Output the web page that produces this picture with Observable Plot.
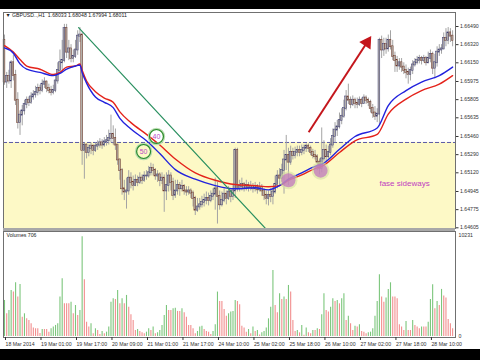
<!DOCTYPE html>
<html><head><meta charset="utf-8">
<script src="https://cdn.jsdelivr.net/npm/d3@7"></script>
<script src="https://cdn.jsdelivr.net/npm/@observablehq/plot@0.6"></script>
<style>
html,body{margin:0;padding:0;background:#000;}
#wrap{position:relative;width:480px;height:360px;background:#000;overflow:hidden;font-family:"Liberation Sans",Arial,sans-serif;}
#panel{position:absolute;left:0;top:9px;width:480px;height:340px;background:#fff;}
#main{position:absolute;left:0;top:9px;}
#vol{position:absolute;left:0;top:230px;}
#sep{position:absolute;left:3px;top:228px;width:452px;height:3px;background:#a8a8a8;}
</style></head><body>
<div id="wrap"><div id="panel"></div><div id="main"></div><div id="vol"></div><div id="sep"></div></div>
<script>
// ---------- data ----------
const titleText = "▼ GBPUSD..,H1  1.68033 1.68048 1.67994 1.68011";
const volumeLabel = "Volumes 706";
const firstOpen = 1.6636;
const close = [
1.6597,1.6602,1.6598,1.6615,1.6603,1.6580,1.6559,1.6566,1.6570,1.6576,
1.6580,1.6578,1.6583,1.6585,1.6587,1.6591,1.6589,1.6595,1.6597,1.6591,
1.6589,1.6587,1.6589,1.6598,1.6608,1.6615,1.6617,1.6647,1.6625,1.6628,
1.6619,1.6621,1.6627,1.6640,1.6641,1.6533,1.6538,1.6531,1.6535,1.6537,
1.6533,1.6537,1.6538,1.6540,1.6538,1.6541,1.6542,1.6544,1.6548,1.6544,
1.6538,1.6524,1.6514,1.6497,1.6494,1.6495,1.6507,1.6503,1.6500,1.6505,
1.6503,1.6507,1.6505,1.6509,1.6509,1.6512,1.6516,1.6514,1.6509,1.6510,
1.6505,1.6507,1.6495,1.6500,1.6509,1.6503,1.6491,1.6495,1.6500,1.6497,
1.6499,1.6495,1.6494,1.6495,1.6493,1.6488,1.6477,1.6480,1.6482,1.6484,
1.6486,1.6488,1.6486,1.6490,1.6492,1.6497,1.6490,1.6482,1.6486,1.6492,
1.6488,1.6494,1.6490,1.6495,1.6533,1.6497,1.6499,1.6501,1.6497,1.6500,
1.6498,1.6499,1.6497,1.6499,1.6496,1.6498,1.6495,1.6491,1.6488,1.6491,
1.6490,1.6494,1.6501,1.6509,1.6507,1.6514,1.6524,1.6528,1.6522,1.6531,
1.6528,1.6531,1.6533,1.6531,1.6533,1.6535,1.6537,1.6535,1.6531,1.6528,
1.6527,1.6522,1.6516,1.6525,1.6533,1.6527,1.6531,1.6538,1.6546,1.6552,
1.6555,1.6561,1.6565,1.6572,1.6583,1.6580,1.6576,1.6580,1.6577,1.6576,
1.6580,1.6577,1.6582,1.6580,1.6578,1.6572,1.6568,1.6565,1.6567,1.6636,
1.6627,1.6632,1.6628,1.6636,1.6630,1.6621,1.6617,1.6612,1.6615,1.6611,
1.6608,1.6606,1.6604,1.6608,1.6613,1.6615,1.6617,1.6619,1.6617,1.6619,
1.6615,1.6619,1.6623,1.6610,1.6615,1.6625,1.6627,1.6628,1.6638,1.6636,
1.6643,1.6640,1.6636];
const high = [
1.6641,1.6606,1.6608,1.6617,1.6622,1.6608,1.6587,1.6570,1.6575,1.6580,
1.6583,1.6583,1.6587,1.6589,1.6593,1.6595,1.6594,1.6599,1.6601,1.6598,
1.6595,1.6593,1.6594,1.6604,1.6615,1.6627,1.6636,1.6651,1.6651,1.6636,
1.6632,1.6627,1.6636,1.6645,1.6648,1.6643,1.6540,1.6539,1.6538,1.6540,
1.6538,1.6540,1.6542,1.6544,1.6543,1.6545,1.6547,1.6552,1.6566,1.6556,
1.6553,1.6538,1.6525,1.6516,1.6505,1.6507,1.6514,1.6512,1.6509,1.6510,
1.6509,1.6512,1.6510,1.6513,1.6514,1.6518,1.6521,1.6520,1.6516,1.6514,
1.6512,1.6512,1.6510,1.6512,1.6514,1.6512,1.6507,1.6505,1.6505,1.6503,
1.6505,1.6501,1.6499,1.6499,1.6497,1.6495,1.6490,1.6488,1.6488,1.6490,
1.6492,1.6494,1.6493,1.6495,1.6497,1.6507,1.6503,1.6495,1.6494,1.6497,
1.6495,1.6499,1.6497,1.6500,1.6535,1.6535,1.6505,1.6507,1.6503,1.6505,
1.6503,1.6504,1.6502,1.6503,1.6501,1.6503,1.6501,1.6497,1.6495,1.6495,
1.6497,1.6499,1.6509,1.6514,1.6516,1.6520,1.6533,1.6547,1.6535,1.6537,
1.6535,1.6536,1.6537,1.6537,1.6538,1.6538,1.6539,1.6539,1.6537,1.6534,
1.6533,1.6529,1.6525,1.6554,1.6542,1.6538,1.6537,1.6544,1.6553,1.6559,
1.6561,1.6568,1.6572,1.6580,1.6589,1.6595,1.6583,1.6584,1.6582,1.6582,
1.6583,1.6582,1.6585,1.6584,1.6582,1.6580,1.6576,1.6574,1.6572,1.6638,
1.6640,1.6638,1.6638,1.6641,1.6645,1.6636,1.6625,1.6621,1.6619,1.6619,
1.6615,1.6613,1.6610,1.6611,1.6617,1.6619,1.6621,1.6622,1.6621,1.6622,
1.6621,1.6625,1.6627,1.6625,1.6623,1.6630,1.6632,1.6632,1.6643,1.6647,
1.6648,1.6647,1.6645];
const low = [
1.6594,1.6591,1.6595,1.6591,1.6598,1.6575,1.6553,1.6547,1.6556,1.6566,
1.6572,1.6574,1.6576,1.6580,1.6582,1.6584,1.6585,1.6587,1.6591,1.6587,
1.6586,1.6584,1.6585,1.6587,1.6595,1.6604,1.6608,1.6615,1.6619,1.6617,
1.6615,1.6615,1.6619,1.6622,1.6634,1.6519,1.6506,1.6525,1.6527,1.6529,
1.6528,1.6531,1.6533,1.6535,1.6534,1.6536,1.6537,1.6538,1.6540,1.6538,
1.6533,1.6519,1.6505,1.6491,1.6486,1.6478,1.6491,1.6497,1.6495,1.6499,
1.6499,1.6501,1.6501,1.6503,1.6505,1.6507,1.6509,1.6509,1.6505,1.6503,
1.6499,1.6501,1.6475,1.6486,1.6494,1.6495,1.6486,1.6488,1.6491,1.6490,
1.6494,1.6491,1.6490,1.6491,1.6488,1.6480,1.6472,1.6475,1.6477,1.6479,
1.6480,1.6482,1.6481,1.6484,1.6486,1.6477,1.6464,1.6477,1.6480,1.6484,
1.6482,1.6486,1.6484,1.6486,1.6488,1.6494,1.6494,1.6495,1.6494,1.6495,
1.6494,1.6495,1.6493,1.6494,1.6492,1.6494,1.6490,1.6486,1.6482,1.6481,
1.6484,1.6482,1.6492,1.6497,1.6499,1.6503,1.6492,1.6514,1.6500,1.6519,
1.6524,1.6525,1.6527,1.6527,1.6528,1.6529,1.6531,1.6531,1.6528,1.6525,
1.6524,1.6514,1.6510,1.6512,1.6522,1.6522,1.6525,1.6528,1.6535,1.6540,
1.6546,1.6553,1.6557,1.6563,1.6570,1.6576,1.6572,1.6574,1.6572,1.6572,
1.6574,1.6573,1.6576,1.6576,1.6574,1.6568,1.6563,1.6561,1.6559,1.6557,
1.6619,1.6621,1.6623,1.6625,1.6627,1.6617,1.6606,1.6606,1.6608,1.6606,
1.6604,1.6600,1.6595,1.6598,1.6604,1.6611,1.6613,1.6614,1.6613,1.6615,
1.6612,1.6614,1.6615,1.6604,1.6600,1.6611,1.6621,1.6623,1.6627,1.6630,
1.6632,1.6634,1.6630];
const volume = [
3650,2300,2640,4660,4500,5440,3990,5270,1960,2300,
1800,1620,1280,850,780,780,300,710,710,710,
440,780,950,1120,1280,3990,5850,3310,3310,3310,
3480,2300,3140,2130,2640,10100,5750,1450,950,1280,
270,780,610,200,510,270,440,950,3480,3820,
3750,4660,3310,3820,3310,4160,2970,2200,1620,610,
710,510,370,270,440,780,610,950,270,370,
610,1120,2130,3140,2640,2640,2810,2870,2540,2540,
2810,2400,1960,1120,1120,780,270,510,950,1050,
710,510,440,200,510,1180,4500,3550,3550,2740,
2060,2300,2470,2540,3650,3550,3210,
1050,850,440,710,270,950,510,610,150,370,
510,850,1790,2970,6690,3140,2400,4330,3750,3990,
3750,5170,4500,1620,510,610,370,1120,120,850,
370,270,610,610,780,710,2200,4330,2640,2470,
2970,3820,3550,3650,3310,3820,4330,1620,2060,1280,
610,1050,950,1180,510,440,270,370,440,780,
2060,3550,6250,3990,3480,3890,4770,5440,3990,3990,
3820,1180,950,610,1520,610,610,1620,1120,950,
780,950,950,950,1450,3750,5240,2810,3550,3140,
4770,4090,3890,1720,1280,780];
// moving averages read at sample bars
const maIdx = [0,4,7,10,16,22,25,28,32,34,35,37,41,45,49,52,57,64,70,77,86,95,104,113,119,124,128,134,140,143,151,158,168,173,181,188,196,202];
const maRed = [1.6631,1.6625,1.6618,1.6612,1.6609,1.6604,1.6606,1.6611,1.6612,1.6614,1.6608,1.6598,1.6588,1.6582,1.6578,1.6569,1.6559,1.6548,1.6538,1.6525,1.6512,1.6505,1.6501,1.6500,1.6499,1.6500,1.6505,1.6510,1.6516,1.6518,1.6531,1.6542,1.6548,1.6567,1.6581,1.6589,1.6595,1.6603];
const maBlue = [1.6629,1.6624,1.6614,1.6609,1.6606,1.6603,1.6605,1.6609,1.6612,1.6613,1.6606,1.6596,1.6583,1.6578,1.6573,1.6563,1.6553,1.6542,1.6530,1.6515,1.6506,1.6500,1.6497,1.6498,1.6496,1.6500,1.6506,1.6512,1.6518,1.6520,1.6534,1.6546,1.6554,1.6575,1.6589,1.6597,1.6603,1.6611];
const priceTicks = [1.66490,1.66320,1.66150,1.65975,1.65805,1.65635,1.65460,1.65290,1.65120,1.64945,1.64775,1.64605];
const volTicks = [0, 10231];
const timeIdx = [0,16,32,48,64,80,96,112,128,144,160,176,192];
const timeLabels = ["18 Mar 2014","19 Mar 01:00","19 Mar 17:00","20 Mar 09:00","21 Mar 01:00","21 Mar 17:00","24 Mar 10:00","25 Mar 02:00","25 Mar 18:00","26 Mar 10:00","27 Mar 02:00","27 Mar 18:00","28 Mar 10:00"];
// annotations (bar index, price)
const levelPrice = 1.65404;
const zone = [{from: 1.6459, to: 1.65404}];
const trendLine = [{i: 33.4, price: 1.6648}, {i: 118.5, price: 1.6458}];
const arrowLine = [{i1: 137.1, p1: 1.6550, i2: 163.4, p2: 1.6634}];
const maCircles = [{i: 68.5, price: 1.6546, label: "40"}, {i: 62.7, price: 1.6532, label: "50"}];
const touchCircles = [{i: 128, price: 1.6505}, {i: 142.5, price: 1.6514}];
const note = [{i: 169, price: 1.6502, text: "fase sideways"}];

// ---------- build ----------
const bars = close.map((c, i) => ({i, open: i ? close[i - 1] : firstOpen, high: high[i], low: low[i], close: c}));
const ma = maIdx.map((i, k) => ({i, red: maRed[k], blue: maBlue[k]}));
const vols = volume.map((v, i) => ({i, v, up: i === 0 ? true : v > volume[i - 1]}));
const labelMap = new Map(timeIdx.map((d, k) => [d, timeLabels[k]]));
const xDomain = [-0.45, 203.3];
const FONT = "Liberation Sans, Arial, sans-serif";

const main = Plot.plot({
  width: 480, height: 221,
  marginLeft: 3, marginRight: 25, marginTop: 3, marginBottom: 2,
  x: {domain: xDomain, axis: null, label: null},
  y: {domain: [1.64605, 1.66490], range: [218.3, 17], axis: null, label: null},
  style: {background: "transparent", fontFamily: FONT, color: "#333"},
  marks: [
    Plot.rect(zone, {x1: () => xDomain[0], x2: () => xDomain[1], y1: "from", y2: "to", fill: "#fdf9c6", clip: true}),
    Plot.ruleY([levelPrice], {stroke: "#5a5aa6", strokeWidth: 1, strokeDasharray: "4,2"}),
    Plot.ruleX(bars, {x: "i", y1: "low", y2: "high", stroke: "#a4a4a4", strokeWidth: 1}),
    Plot.rect(bars, {x1: d => d.i - 0.4, x2: d => d.i + 0.4, y1: "open", y2: "close", insetTop: -0.5, insetBottom: -0.5,
      fill: "#b4b0aa", stroke: d => d.close >= d.open ? "#3a3a72" : "#6e3424", strokeWidth: 0.5}),
    Plot.line(ma, {x: "i", y: "red", stroke: "#e4231b", strokeWidth: 1.4, curve: "monotone-x"}),
    Plot.line(ma, {x: "i", y: "blue", stroke: "#2222dd", strokeWidth: 1.4, curve: "monotone-x"}),
    Plot.line(trendLine, {x: "i", y: "price", stroke: "#2a9060", strokeWidth: 1.2, clip: true}),
    Plot.link(arrowLine, {x1: "i1", y1: "p1", x2: "i2", y2: "p2", stroke: "#c4161c", strokeWidth: 2}),
    Plot.dot(arrowLine, {x: "i2", y: "p2", symbol: "triangle", r: 5, fill: "#c4161c", stroke: "none", rotate: 33}),
    Plot.dot(maCircles, {x: "i", y: "price", r: 7.5, stroke: "#b8dcb0", strokeWidth: 2.5, fill: "none"}),
    Plot.dot(maCircles, {x: "i", y: "price", r: 7, stroke: "#2a8a2a", strokeWidth: 1.1, fill: "none"}),
    Plot.text(maCircles, {x: "i", y: "price", text: "label", fill: "#b848c8", fontSize: 7}),
    Plot.dot(touchCircles, {x: "i", y: "price", r: 9, fill: "#d4e0a0", fillOpacity: 0.6}),
    Plot.dot(touchCircles, {x: "i", y: "price", r: 7, fill: "#c070c0", fillOpacity: 0.7}),
    Plot.text(note, {x: "i", y: "price", text: "text", fill: "#c040c0", fontSize: 8, textAnchor: "start"}),
    Plot.text([titleText], {frameAnchor: "top-left", text: d => d, dx: 2, dy: 1, fontSize: 5.2, fill: "#222", textAnchor: "start", lineAnchor: "top"}),
    Plot.frame({stroke: "#707070", strokeWidth: 1}),
    Plot.axisY(priceTicks, {anchor: "right", label: null, tickSize: 2.5, tickPadding: 2, fontSize: 5.2, tickFormat: d => d.toFixed(5)})
  ]
});
document.getElementById("main").appendChild(main);

const vol = Plot.plot({
  width: 480, height: 119,
  marginLeft: 3, marginRight: 25, marginTop: 1, marginBottom: 12,
  x: {domain: xDomain, axis: null, label: null},
  y: {domain: [0, 10231], range: [106, 5], axis: null, label: null},
  style: {background: "transparent", fontFamily: FONT, color: "#333"},
  marks: [
    Plot.ruleX(vols, {x: "i", y1: () => 0, y2: "v", stroke: d => d.up ? "#7cc67c" : "#f28e8e", strokeWidth: 1.1}),
    Plot.frame({stroke: "#707070", strokeWidth: 1}),
    Plot.axisY(volTicks, {anchor: "right", label: null, tickSize: 0, tickPadding: 3, fontSize: 5.2, tickFormat: d => String(d)}),
    Plot.axisX(timeIdx, {anchor: "bottom", label: null, tickSize: 3, tickPadding: 1.5, fontSize: 5.2, textAnchor: "start", dx: 1, tickFormat: d => labelMap.get(d)}),
    Plot.text([volumeLabel], {frameAnchor: "top-left", text: d => d, dx: 3, dy: 2, fontSize: 5.2, fill: "#222", textAnchor: "start", lineAnchor: "top"})
  ]
});
document.getElementById("vol").appendChild(vol);
</script>
</body></html>
